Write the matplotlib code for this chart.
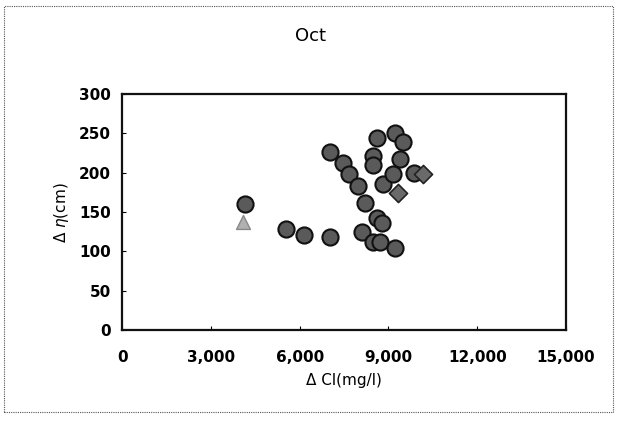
import matplotlib
matplotlib.use("Agg")
import matplotlib.pyplot as plt
from matplotlib.patches import Rectangle

plt.rcParams['font.family'] = ['DejaVu Sans', 'Noto Sans CJK JP']

# Chloride change (mg/l) vs. water-level change (cm), October
circle_cl = [4140, 5520, 6140, 7040, 7020, 7460, 7650, 7970, 8090, 8220,
             8600, 8770, 8470, 8700, 9230, 8600, 8480, 8480, 8820, 9220,
             9480, 9390, 9160, 9850]
circle_eta = [160, 129, 121, 119, 227, 213, 199, 183, 125, 162,
              142, 136, 112, 112, 105, 244, 222, 210, 186, 250,
              239, 218, 199, 200]
diamond_cl = [9330, 10150]
diamond_eta = [174, 199]
triangle_cl = [4070]
triangle_eta = [138]

x_ticks = [0, 3000, 6000, 9000, 12000, 15000]
y_ticks = [0, 50, 100, 150, 200, 250, 300]

fig = plt.figure(figsize=(6.2, 4.26), dpi=100)
fig.patches.append(Rectangle((0.006, 0.033), 0.982, 0.952, transform=fig.transFigure,
                             fill=False, edgecolor='#555555', linewidth=0.8,
                             linestyle=(0, (1, 1))))

ax = fig.add_axes([0.197, 0.225, 0.716, 0.554])
ax.scatter(circle_cl, circle_eta, s=135, marker='o', facecolor='#5a5a5a',
           edgecolor='#111111', linewidth=1.5, zorder=3)
ax.scatter(diamond_cl, diamond_eta, s=85, marker='D', facecolor='#6a6a6a',
           edgecolor='#222222', linewidth=1.2, zorder=3)
ax.scatter(triangle_cl, triangle_eta, s=100, marker='^', facecolor='#b0b0b0',
           edgecolor='#888888', linewidth=1.0, zorder=3)

ax.set_xlim(0, 15000)
ax.set_ylim(0, 300)
ax.set_xticks(x_ticks)
ax.set_xticklabels([f"{v:,}" for v in x_ticks])
ax.set_yticks(y_ticks)
ax.tick_params(direction='in', length=3, width=0.8, labelsize=11, pad=14)
ax.tick_params(axis='y', pad=8)
for lab in ax.get_xticklabels() + ax.get_yticklabels():
    lab.set_fontweight('bold')
for sp in ax.spines.values():
    sp.set_linewidth(1.6)
    sp.set_color('#111111')

ax.set_xlabel('Δ Cl(mg/l)', fontsize=11, labelpad=6)
ax.set_ylabel('Δ $\\eta$(cm)', fontsize=11, labelpad=6)
fig.text(0.5, 0.915, 'Oct', ha='center', va='center', fontsize=13)

fig.savefig('out.png', dpi=100)
